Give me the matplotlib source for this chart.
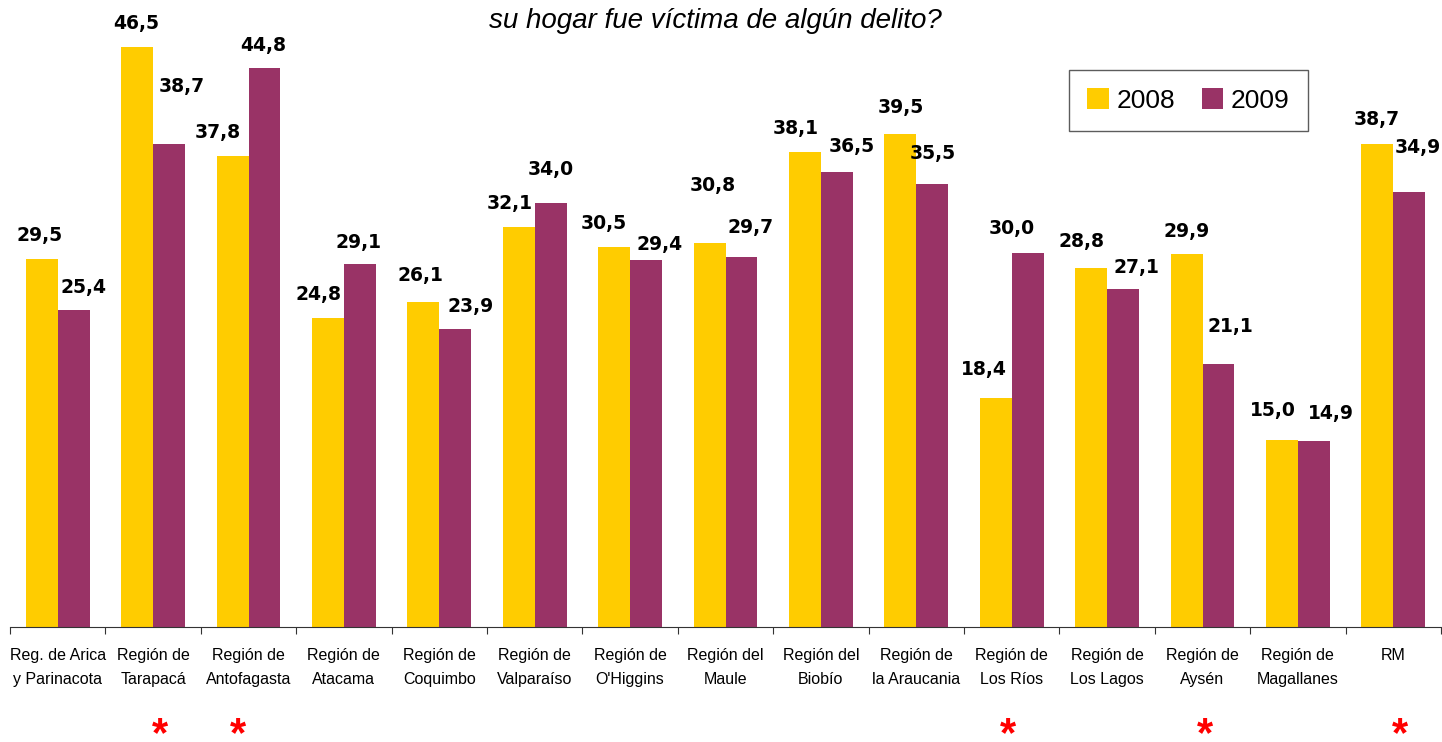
import matplotlib.pyplot as plt
import numpy as np

regiones = ["Reg. de Arica\ny Parinacota", "Región de\nTarapacá", "Región de\nAntofagasta",
            "Región de\nAtacama", "Región de\nCoquimbo", "Región de\nValparaíso",
            "Región de\nO'Higgins", "Región del\nMaule", "Región del\nBiobío",
            "Región de\nla Araucania", "Región de\nLos Ríos", "Región de\nLos Lagos",
            "Región de\nAysén", "Región de\nMagallanes", "RM"]
v2008 = [29.5, 46.5, 37.8, 24.8, 26.1, 32.1, 30.5, 30.8, 38.1, 39.5, 18.4, 28.8, 29.9, 15.0, 38.7]
v2009 = [25.4, 38.7, 44.8, 29.1, 23.9, 34.0, 29.4, 29.7, 36.5, 35.5, 30.0, 27.1, 21.1, 14.9, 34.9]
significativo = [1, 2, 10, 12, 14]

# label offsets in pixels (moved by hand in the original)
dx08 = [-2, -1, -15, -9, -3, -9, -10, 3, -9, 0, -12, -10, 0, -9, -1]
dy08 = [24, 24, 23, 23, 26, 23, 23, 57, 23, 27, 28, 26, 23, 29, 25]
dx09 = [10, 13, -1, -1, 15, 0, 13, 9, 15, 0, -16, 13, 12, 17, 9]
dy09 = [23, 58, 23, 22, 22, 34, 16, 29, 25, 31, 24, 22, 37, 28, 44]
dx_ast = [7, -10, -4, 2, 7]

amarillo = '#FFCC00'
morado = '#993366'

fig = plt.figure(figsize=(14.42, 7.42), dpi=100)
ax = fig.add_axes([10/1442, 115/742, 1431/1442, 627/742])

x = np.arange(len(regiones))
w = 0.335
ax.bar(x - w/2, v2008, w, color=amarillo, label='2008')
ax.bar(x + w/2, v2009, w, color=morado, label='2009')

ax.set_xlim(-0.5, len(regiones) - 0.5)
ax.set_ylim(0, 50.28)

def etiqueta(val, xpos, dx, dy):
    ax.annotate(f"{val:.1f}".replace('.', ','), (xpos, val), xytext=(dx, dy),
                textcoords='offset pixels', ha='center', va='center',
                fontsize=13.5, fontweight='bold', family='DejaVu Sans')

for i in range(len(regiones)):
    etiqueta(v2008[i], x[i] - w/2, dx08[i], dy08[i])
    etiqueta(v2009[i], x[i] + w/2, dx09[i], dy09[i])

for s in ['left', 'right', 'top']:
    ax.spines[s].set_visible(False)
ax.spines['bottom'].set_color('#333333')
ax.set_yticks([])
ax.set_xticks(np.arange(len(regiones) + 1) - 0.5)
ax.set_xticklabels([])
ax.tick_params(axis='x', which='major', length=5, color='#333333')
ax.set_xticks(x, minor=True)
ax.set_xticklabels(regiones, minor=True, fontsize=11.5, family='Liberation Sans', linespacing=1.75)
ax.tick_params(axis='x', which='minor', length=0, pad=15)

for i, d in zip(significativo, dx_ast):
    ax.annotate('*', (x[i], 0), xytext=(d, -108), textcoords='offset pixels',
                color='red', fontsize=30, fontweight='bold',
                ha='center', va='center', family='Liberation Sans', annotation_clip=False)

fig.text(715/1442, 1 - 21/742, 'su hogar fue víctima de algún delito?', ha='center', va='center',
         fontsize=20, style='italic', family='Liberation Sans')

leg = ax.legend(loc='upper left', bbox_to_anchor=(1059/1431, 1 - 70/627), ncol=2,
                prop={'family': 'Liberation Sans', 'size': 19}, borderaxespad=0,
                frameon=True, fancybox=False, edgecolor='#333333', handlelength=0.8,
                handleheight=0.8, columnspacing=1.0, handletextpad=0.3, borderpad=0.7)
leg.get_frame().set_linewidth(1.0)

fig.savefig('out.png', dpi=100)
